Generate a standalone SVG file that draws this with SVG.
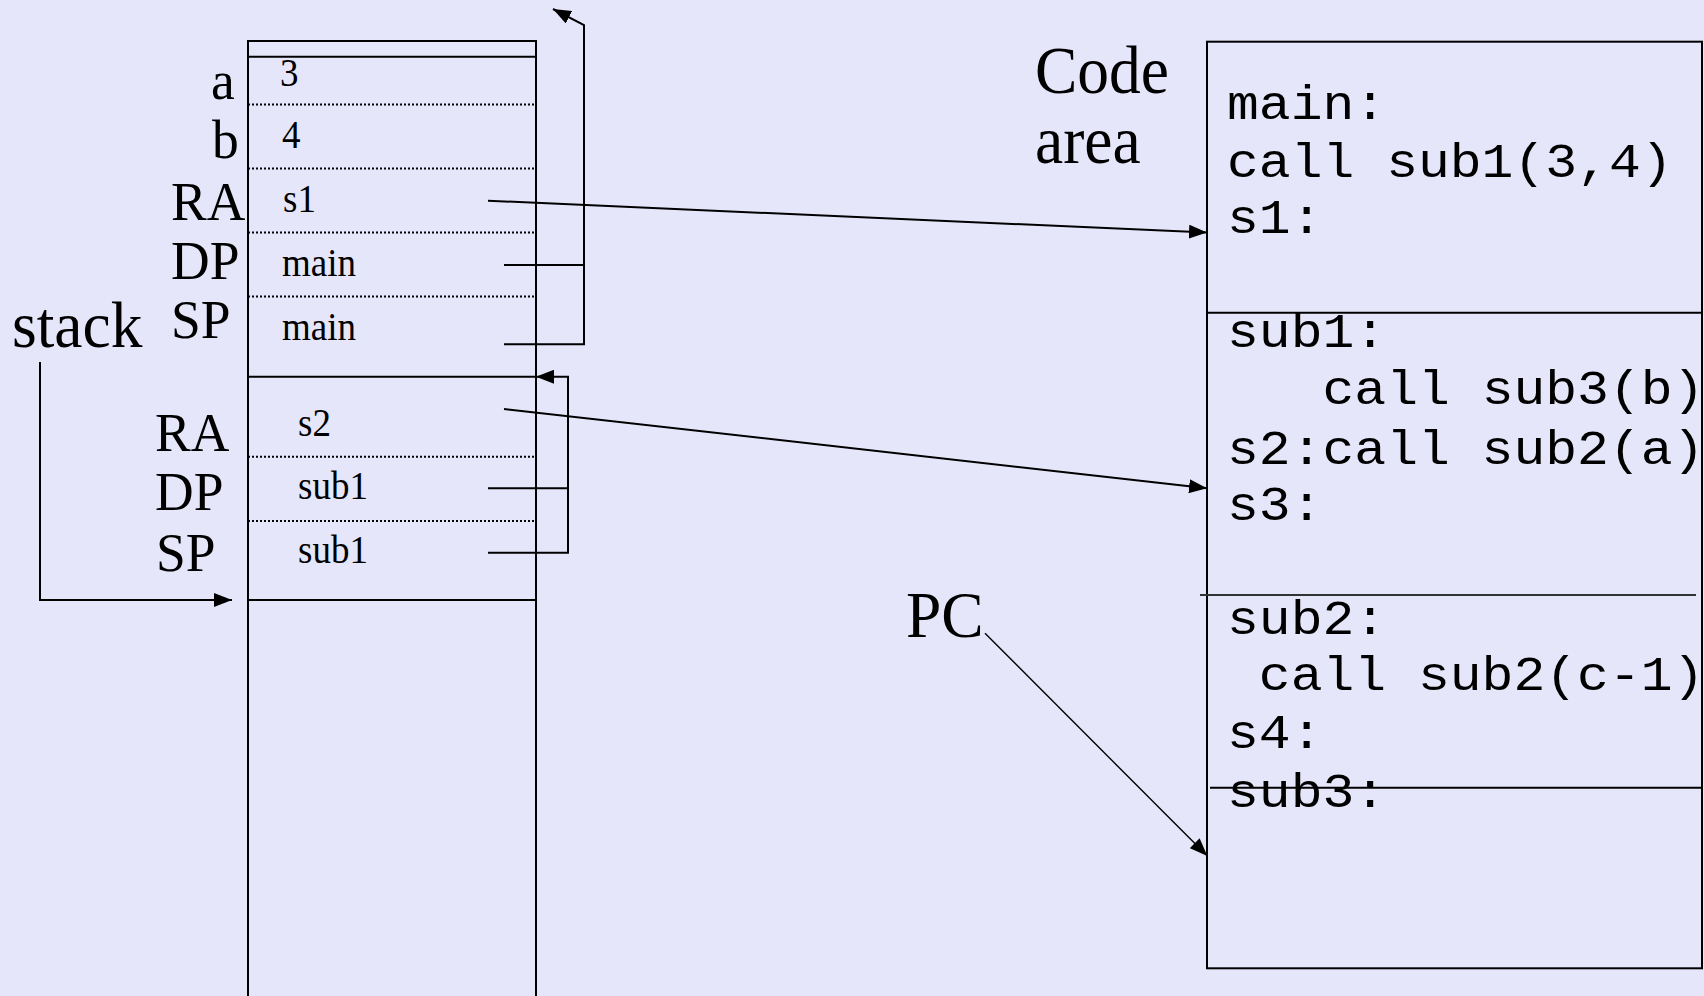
<svg xmlns="http://www.w3.org/2000/svg" width="1704" height="996" viewBox="0 0 1704 996">
  <style>
    .serif{font-family:"Liberation Serif","Times New Roman",serif;fill:#000}
    .lbl{font-size:53.5px}
    .val{font-size:37px}
    .big{font-size:63.5px}
    .mono{font-family:"Liberation Mono","Courier New",monospace;font-size:48px;fill:#000}
    .solid{stroke:#000;stroke-width:2;fill:none}
    .dot{stroke:#000;stroke-width:2;stroke-dasharray:2 2;fill:none}
    .link{stroke:#000;stroke-width:2;fill:none}
    .thin{stroke:#000;stroke-width:1.4;fill:none}
    .sep{stroke:#333;stroke-width:2;fill:none}
  </style>
  <defs>
    <marker id="head" viewBox="0 0 18 14" refX="18" refY="7" markerWidth="18" markerHeight="14" orient="auto" markerUnits="userSpaceOnUse">
      <path d="M0,0 L18,7 L0,14 z" fill="#000"/>
    </marker>
  </defs>

  <rect width="1704" height="996" fill="#e6e6fa"/>

  <!-- run-time stack -->
  <g id="stack">
    <path class="solid" d="M248,996 V41 H536 V996"/>
    <line class="solid" x1="248" y1="56.7" x2="536" y2="56.7"/>
    <line class="dot" x1="248" y1="104.5" x2="536" y2="104.5"/>
    <line class="dot" x1="248" y1="168.5" x2="536" y2="168.5"/>
    <line class="dot" x1="248" y1="232.5" x2="536" y2="232.5"/>
    <line class="dot" x1="248" y1="296.5" x2="536" y2="296.5"/>
    <line class="solid" x1="248" y1="376.7" x2="536" y2="376.7"/>
    <line class="dot" x1="248" y1="456.7" x2="536" y2="456.7"/>
    <line class="dot" x1="248" y1="521" x2="536" y2="521"/>
    <line class="solid" x1="248" y1="600" x2="536" y2="600"/>
  </g>

  <!-- frame of main's call to sub1 -->
  <g id="frame-sub1">
    <text class="serif lbl" transform="translate(211 99) scale(1 1.04)">a</text>
    <text class="serif lbl" transform="translate(212 158.3) scale(1 1.04)">b</text>
    <text class="serif lbl" transform="translate(171 220) scale(1 1.04)">RA</text>
    <text class="serif lbl" transform="translate(171 279.3) scale(1 1.04)">DP</text>
    <text class="serif lbl" transform="translate(171 338.3) scale(1 1.04)">SP</text>
    <text class="serif val" transform="translate(280 86) scale(1 1.06)">3</text>
    <text class="serif val" transform="translate(282 148.3) scale(1 1.06)">4</text>
    <text class="serif val" transform="translate(283 211.7) scale(1 1.06)">s1</text>
    <text class="serif val" transform="translate(282 275.7) scale(1 1.06)">main</text>
    <text class="serif val" transform="translate(282 340) scale(1 1.06)">main</text>
  </g>

  <!-- frame of sub1's call to sub2 -->
  <g id="frame-sub2">
    <text class="serif lbl" transform="translate(155 450.7) scale(1 1.04)">RA</text>
    <text class="serif lbl" transform="translate(155 510) scale(1 1.04)">DP</text>
    <text class="serif lbl" transform="translate(156 570.7) scale(1 1.04)">SP</text>
    <text class="serif val" transform="translate(298 436) scale(1 1.06)">s2</text>
    <text class="serif val" transform="translate(298 499.3) scale(1 1.06)">sub1</text>
    <text class="serif val" transform="translate(298 563.3) scale(1 1.06)">sub1</text>
  </g>

  <g id="stack-label">
    <text class="serif big" transform="translate(12 346.7) scale(1 1.04)">stack</text>
  </g>

  <g id="code-label">
    <text class="serif big" transform="translate(1035 92.7) scale(1 1.05)">Code</text>
    <text class="serif big" transform="translate(1035 163.3) scale(1 1.05)">area</text>
  </g>

  <g id="pc-label">
    <text class="serif big" transform="translate(906 636.7) scale(1 1.03)">PC</text>
  </g>

  <!-- code area -->
  <g id="code">
    <rect class="solid" x="1207" y="41.7" width="495" height="926.6"/>
    <line class="solid" x1="1207" y1="312.7" x2="1702" y2="312.7"/>
    <line class="sep" x1="1200" y1="595" x2="1696" y2="595"/>
    <line class="solid" x1="1210" y1="787.7" x2="1702" y2="787.7"/>
    <text class="mono" transform="translate(1227 119) scale(1.105 1)">main:</text>
    <text class="mono" transform="translate(1227 176.7) scale(1.105 1)">call sub1(3,4)</text>
    <text class="mono" transform="translate(1227 233.3) scale(1.105 1)">s1:</text>
    <text class="mono" transform="translate(1227 347) scale(1.105 1)">sub1:</text>
    <text class="mono" transform="translate(1322.5 404.3) scale(1.105 1)">call sub3(b)</text>
    <text class="mono" transform="translate(1227 464) scale(1.105 1)">s2:call sub2(a)</text>
    <text class="mono" transform="translate(1227 520) scale(1.105 1)">s3:</text>
    <text class="mono" transform="translate(1227 634) scale(1.105 1)">sub2:</text>
    <text class="mono" transform="translate(1258.8 690) scale(1.105 1)">call sub2(c-1)</text>
    <text class="mono" transform="translate(1227 748.3) scale(1.105 1)">s4:</text>
    <text class="mono" transform="translate(1227 806.7) scale(1.105 1)">sub3:</text>
  </g>

  <!-- connectors -->
  <g id="connectors">
    <!-- dynamic/static links of the first frame -->
    <path class="link" d="M504,265 H584 M504,344.3 H584 V25 L553,9" marker-end="url(#head)"/>
    <!-- links of the second frame -->
    <path class="link" d="M488,488.3 H568 M488,552.7 H568 V376.7 H536" marker-end="url(#head)"/>
    <!-- return addresses -->
    <line class="link" x1="488" y1="200.7" x2="1207" y2="232.5" marker-end="url(#head)"/>
    <line class="link" x1="504" y1="409" x2="1207" y2="488.3" marker-end="url(#head)"/>
    <!-- stack pointer -->
    <path class="link" d="M40,362 V600 H232" marker-end="url(#head)"/>
    <!-- program counter -->
    <line class="thin" x1="985" y1="633.3" x2="1207.4" y2="856" marker-end="url(#head)"/>
  </g>
</svg>
